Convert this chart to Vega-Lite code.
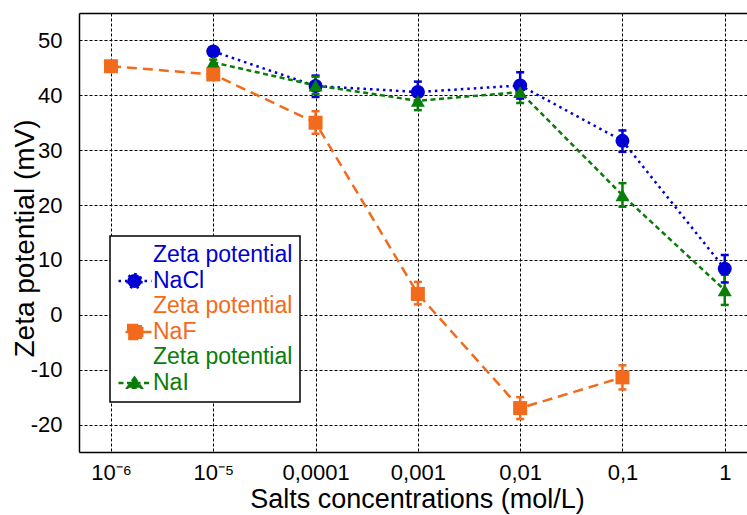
{
  "$schema": "https://vega.github.io/schema/vega-lite/v6.json",
  "width": 668,
  "height": 439,
  "autosize": {"type": "none"},
  "padding": {"left": 79, "top": 13, "right": 0, "bottom": 63},
  "background": "white",
  "data": {
    "values": [
      {"series": "NaCl", "conc": 0.00001, "zeta": 48.0, "lo": 47.5, "hi": 48.5},
      {"series": "NaCl", "conc": 0.0001, "zeta": 41.7, "lo": 39.7, "hi": 43.6},
      {"series": "NaCl", "conc": 0.001, "zeta": 40.6, "lo": 38.7, "hi": 42.5},
      {"series": "NaCl", "conc": 0.01, "zeta": 41.8, "lo": 39.4, "hi": 44.2},
      {"series": "NaCl", "conc": 0.1, "zeta": 31.7, "lo": 29.7, "hi": 33.6},
      {"series": "NaCl", "conc": 1, "zeta": 8.4, "lo": 5.9, "hi": 10.9},
      {"series": "NaI", "conc": 0.00001, "zeta": 46.0, "lo": 45.5, "hi": 46.5},
      {"series": "NaI", "conc": 0.0001, "zeta": 41.8, "lo": 40.2, "hi": 43.4},
      {"series": "NaI", "conc": 0.001, "zeta": 39.0, "lo": 37.3, "hi": 40.7},
      {"series": "NaI", "conc": 0.01, "zeta": 40.6, "lo": 38.6, "hi": 42.6},
      {"series": "NaI", "conc": 0.1, "zeta": 21.8, "lo": 19.7, "hi": 24.0},
      {"series": "NaI", "conc": 1, "zeta": 4.5, "lo": 1.8, "hi": 7.3},
      {"series": "NaF", "conc": 0.000001, "zeta": 45.3, "lo": 44.8, "hi": 45.8},
      {"series": "NaF", "conc": 0.00001, "zeta": 43.8, "lo": 43.3, "hi": 44.3},
      {"series": "NaF", "conc": 0.0001, "zeta": 35.0, "lo": 33.0, "hi": 37.1},
      {"series": "NaF", "conc": 0.001, "zeta": 3.8, "lo": 1.9, "hi": 6.0},
      {"series": "NaF", "conc": 0.01, "zeta": -17.0, "lo": -19.0, "hi": -15.0},
      {"series": "NaF", "conc": 0.1, "zeta": -11.4, "lo": -13.6, "hi": -9.2}
    ]
  },
  "resolve": {"axis": {"x": "independent"}},
  "layer": [
    {
      "transform": [{"filter": "false"}],
      "mark": {"type": "point", "filled": true, "size": 441, "opacity": 1},
      "encoding": {
        "x": {"field": "conc", "type": "quantitative", "scale": {"type": "log", "domain": [4.87e-7, 1.65], "nice": false}, "axis": null},
        "y": {"field": "zeta", "type": "quantitative", "scale": {"domain": [-25, 55], "nice": false, "zero": false}},
        "color": {"field": "series", "type": "nominal", "scale": {"domain": ["NaCl", "NaF", "NaI"], "range": ["#0000d4", "#f26a1b", "#087d08"]},
          "legend": {"orient": "none", "legendX": 31, "legendY": 223, "title": null, "labelFontSize": 23, "labelOffset": 12, "labelLimit": 400, "symbolSize": 441, "padding": 7, "rowPadding": -1, "strokeColor": "black", "fillColor": "white",
            "labelExpr": "['Zeta potential', datum.label]",
            "encoding": {
              "labels": {
                "fill": {"condition": [{"test": "datum.value === 'NaCl'", "value": "#0000d4"}, {"test": "datum.value === 'NaF'", "value": "#f26a1b"}], "value": "#087d08"},
                "lineHeight": {"value": 26}
              },
              "symbols": {"strokeWidth": {"value": 2.5}, "opacity": {"value": 1}},
              "legend": {"strokeWidth": {"value": 1.5}}
            }}},
        "shape": {"field": "series", "type": "nominal", "scale": {"domain": ["NaCl", "NaF", "NaI"], "range": [
            "M-1,2.476H2.143M1.191,2.476A0.667,0.667 0 1 1 -0.143,2.476A0.667,0.667 0 1 1 1.191,2.476Z",
            "M-0.333,2.476H2.143M-0.077,1.809H1.257V3.143H-0.077Z",
            "M-1,2.476H2.143M0.524,1.971L1.191,2.924H-0.143Z"]},
          "legend": {"orient": "none", "legendX": 31, "legendY": 223, "title": null}},
        "strokeDash": {"field": "series", "type": "nominal", "scale": {"domain": ["NaCl", "NaF", "NaI"], "range": [[2.5, 4], [10, 6], [5, 3.5]]},
          "legend": {"orient": "none", "legendX": 31, "legendY": 223, "title": null}}
      }
    },
    {
      "mark": {"type": "line", "strokeWidth": 2.5, "strokeCap": "butt"},
      "encoding": {
        "x": {"field": "conc", "type": "quantitative", "scale": {"type": "log", "domain": [4.87e-7, 1.65], "nice": false},
              "axis": {"orient": "top", "labels": false, "grid": false, "ticks": false, "domain": true, "title": null}},
        "y": {"field": "zeta", "type": "quantitative", "scale": {"domain": [-25, 55], "nice": false, "zero": false},
              "axis": {"title": "Zeta potential (mV)", "titleFontSize": 28, "titleX": -54, "titleY": 225, "titleBaseline": "middle", "titleAngle": -90, "titleAlign": "center", "labelPadding": 17, "values": [-20, -10, 0, 10, 20, 30, 40, 50],
                       "labelExpr": "datum.value < 0 ? '-' + abs(datum.value) : '' + datum.value"}},
        "color": {"field": "series", "type": "nominal", "scale": {"domain": ["NaCl", "NaF", "NaI"], "range": ["#0000d4", "#f26a1b", "#087d08"]}, "legend": null},
        "strokeDash": {"field": "series", "type": "nominal", "scale": {"domain": ["NaCl", "NaF", "NaI"], "range": [[2.5, 4], [10, 6], [5, 3.5]]}, "legend": null}
      }
    },
    {
      "mark": {"type": "rule", "strokeWidth": 2.5},
      "encoding": {
        "x": {"field": "conc", "type": "quantitative", "scale": {"type": "log", "domain": [4.87e-7, 1.65], "nice": false}, "axis": null},
        "y": {"field": "lo", "type": "quantitative", "scale": {"domain": [-25, 55], "nice": false, "zero": false}},
        "y2": {"field": "hi"},
        "color": {"field": "series", "type": "nominal", "scale": {"domain": ["NaCl", "NaF", "NaI"], "range": ["#0000d4", "#f26a1b", "#087d08"]}, "legend": null}
      }
    },
    {
      "mark": {"type": "tick", "orient": "horizontal", "size": 8, "thickness": 2.5, "opacity": 1},
      "encoding": {
        "x": {"field": "conc", "type": "quantitative", "scale": {"type": "log", "domain": [4.87e-7, 1.65], "nice": false}, "axis": null},
        "y": {"field": "lo", "type": "quantitative", "scale": {"domain": [-25, 55], "nice": false, "zero": false}},
        "color": {"field": "series", "type": "nominal", "scale": {"domain": ["NaCl", "NaF", "NaI"], "range": ["#0000d4", "#f26a1b", "#087d08"]}, "legend": null}
      }
    },
    {
      "mark": {"type": "tick", "orient": "horizontal", "size": 8, "thickness": 2.5, "opacity": 1},
      "encoding": {
        "x": {"field": "conc", "type": "quantitative", "scale": {"type": "log", "domain": [4.87e-7, 1.65], "nice": false}, "axis": null},
        "y": {"field": "hi", "type": "quantitative", "scale": {"domain": [-25, 55], "nice": false, "zero": false}},
        "color": {"field": "series", "type": "nominal", "scale": {"domain": ["NaCl", "NaF", "NaI"], "range": ["#0000d4", "#f26a1b", "#087d08"]}, "legend": null}
      }
    },
    {
      "mark": {"type": "point", "filled": true, "size": 196, "opacity": 1},
      "encoding": {
        "x": {"field": "conc", "type": "quantitative", "scale": {"type": "log", "domain": [4.87e-7, 1.65], "nice": false},
              "axis": {"orient": "bottom", "title": "Salts concentrations (mol/L)", "titleFontSize": 27, "titleX": 338, "titleY": 47, "titleBaseline": "middle", "titleAlign": "center",
                       "values": [0.000001, 0.00001, 0.0001, 0.001, 0.01, 0.1, 1], "grid": true, "labelPadding": 10, "labelFlush": false, "labelOverlap": false,
                       "labelExpr": "datum.value < 5e-6 ? '10⁻⁶' : datum.value < 5e-5 ? '10⁻⁵' : datum.value < 5e-4 ? '0,0001' : datum.value < 5e-3 ? '0,001' : datum.value < 0.05 ? '0,01' : datum.value < 0.5 ? '0,1' : '1'"}},
        "y": {"field": "zeta", "type": "quantitative", "scale": {"domain": [-25, 55], "nice": false, "zero": false}},
        "color": {"field": "series", "type": "nominal", "scale": {"domain": ["NaCl", "NaF", "NaI"], "range": ["#0000d4", "#f26a1b", "#087d08"]}, "legend": null},
        "shape": {"condition": [{"test": "datum.series === 'NaCl'", "value": "circle"}, {"test": "datum.series === 'NaF'", "value": "square"}], "value": "triangle-up"}
      }
    }
  ],
  "config": {
    "font": "Liberation Sans",
    "view": {"stroke": null},
    "axis": {
      "gridColor": "black", "gridDash": [3, 2], "gridWidth": 1, "gridOpacity": 1,
      "domainColor": "black", "domainWidth": 1.5, "ticks": false, "tickSize": 0,
      "labelColor": "black", "titleColor": "black", "labelFont": "Liberation Sans", "titleFont": "Liberation Sans",
      "titleFontWeight": "normal", "labelFontSize": 22
    },
    "axisY": {"grid": true}
  }
}
